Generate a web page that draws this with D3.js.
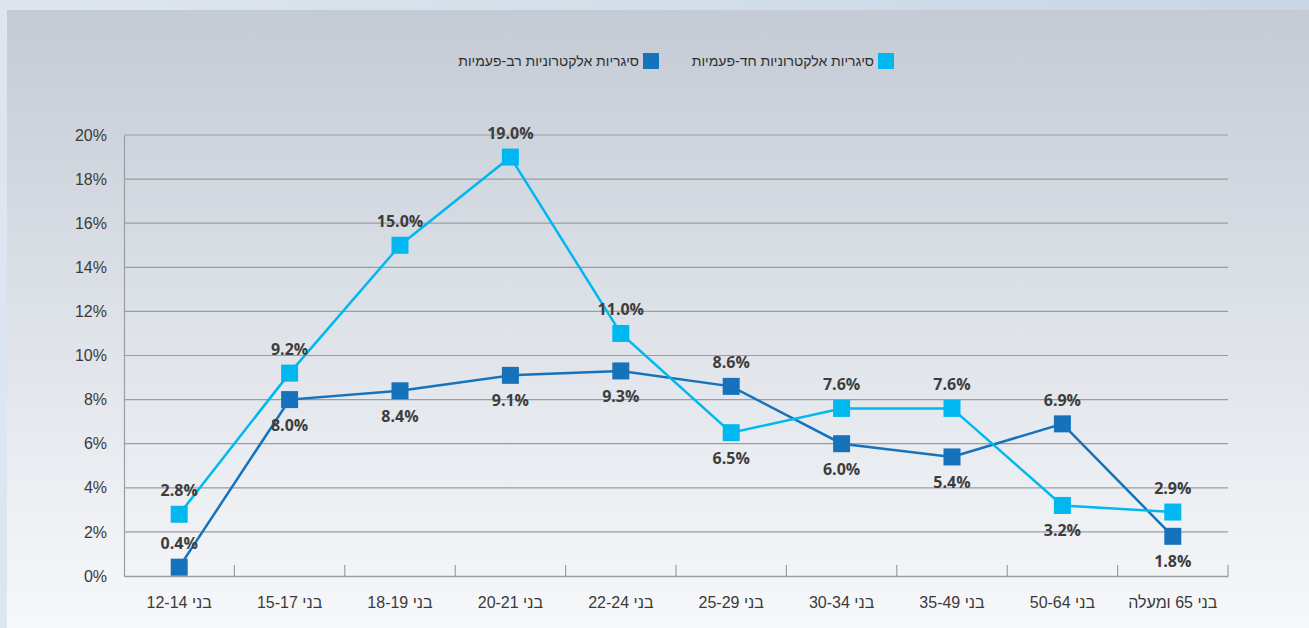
<!DOCTYPE html>
<html>
<head>
<meta charset="utf-8">
<script src="https://cdn.jsdelivr.net/npm/d3@7"></script>
<style>
  body { margin: 0; background: #e9edf2; }
  svg { display: block; font-family: "Open Sans", "Liberation Sans", sans-serif; }
</style>
</head>
<body>
<div id="chart"></div>
<script>
// age groups, in the order shown left to right
var categories = ["בני 12-14", "בני 15-17", "בני 18-19", "בני 20-21", "בני 22-24",
                  "בני 25-29", "בני 30-34", "בני 35-49", "בני 50-64", "בני 65 ומעלה"];
var disposable = [2.8, 9.2, 15.0, 19.0, 11.0, 6.5, 7.6, 7.6, 3.2, 2.9];
var reusable = [0.4, 8.0, 8.4, 9.1, 9.3, 8.6, 6.0, 5.4, 6.9, 1.8];
var seriesNames = ["סיגריות אלקטרוניות חד-פעמיות", "סיגריות אלקטרוניות רב-פעמיות"];
var yTicks = [0, 2, 4, 6, 8, 10, 12, 14, 16, 18, 20];
// label placement per point: true = above marker
var disposableAbove = [true, true, true, true, true, false, true, true, false, true];
var reusableAbove = [true, false, false, false, false, true, false, false, true, false];

function main() {
    var W = 1309, H = 628;
    var margin = { top: 135, right: 81, bottom: 52, left: 124 };
    var width = W - margin.left - margin.right;
    var height = H - margin.top - margin.bottom;

    var svg = d3.select("#chart").append("svg")
        .attr("width", W).attr("height", H);

    // sky-ish background
    var defs = svg.append("defs");
    var grad = defs.append("linearGradient").attr("id", "bg")
        .attr("x1", 0).attr("y1", 0).attr("x2", 0).attr("y2", 1);
    grad.append("stop").attr("offset", "0%").attr("stop-color", "#c4cbd5");
    grad.append("stop").attr("offset", "45%").attr("stop-color", "#dbe0e7");
    grad.append("stop").attr("offset", "100%").attr("stop-color", "#f7f8fa");
    var edge = defs.append("linearGradient").attr("id", "edge")
        .attr("x1", 0).attr("y1", 0).attr("x2", 1).attr("y2", 0);
    edge.append("stop").attr("offset", "0%").attr("stop-color", "#dde6f0");
    edge.append("stop").attr("offset", "100%").attr("stop-color", "#c9d6e4");

    svg.append("rect").attr("width", W).attr("height", H).attr("fill", "url(#edge)");
    svg.append("rect").attr("x", 7).attr("y", 10).attr("width", W - 7).attr("height", H - 10)
        .attr("fill", "url(#bg)");

    var g = svg.append("g")
        .attr("transform", "translate(" + margin.left + "," + margin.top + ")");

    var x = d3.scaleBand().domain(categories).range([0, width]);
    var y = d3.scaleLinear().domain([0, 20]).range([height, 0]);

    // gridlines
    g.selectAll(".grid").data(yTicks.slice(1)).enter().append("line")
        .attr("x1", 0).attr("x2", width)
        .attr("y1", function (d) { return y(d); })
        .attr("y2", function (d) { return y(d); })
        .attr("stroke", "#9a9ea4").attr("stroke-width", 1.2);

    // y axis
    var yAxis = g.append("g")
        .call(d3.axisLeft(y).tickValues(yTicks).tickSize(0).tickPadding(17)
            .tickFormat(function (d) { return d + "%"; }));
    yAxis.select(".domain").attr("stroke", "#9a9ea4").attr("stroke-width", 1.2);
    yAxis.selectAll("text").attr("font-size", "16px").attr("fill", "#3a3a3a");

    // x axis with inward ticks at band edges
    var xAxis = g.append("g").attr("transform", "translate(0," + height + ")")
        .call(d3.axisBottom(x).tickSize(0).tickPadding(21));
    xAxis.select(".domain").attr("stroke", "#9a9ea4").attr("stroke-width", 1.5);
    xAxis.selectAll("text").attr("font-size", "16px").attr("fill", "#3a3a3a");
    var edges = categories.slice(1).map(function (c) { return x(c); }).concat([width]);
    xAxis.selectAll(".edge").data(edges).enter().append("line")
        .attr("x1", function (d) { return d; }).attr("x2", function (d) { return d; })
        .attr("y1", -11).attr("y2", 0)
        .attr("stroke", "#9a9ea4").attr("stroke-width", 1.2);

    var cx = function (d, i) { return x(categories[i]) + x.bandwidth() / 2; };

    function drawSeries(values, color, above) {
        var line = d3.line()
            .x(function (d, i) { return cx(d, i); })
            .y(function (d) { return y(d); });
        g.append("path").datum(values)
            .attr("fill", "none").attr("stroke", color).attr("stroke-width", 2.5)
            .attr("d", line);
        g.selectAll(null).data(values).enter().append("rect")
            .attr("x", function (d, i) { return cx(d, i) - 8.5; })
            .attr("y", function (d) { return y(d) - 8.5; })
            .attr("width", 17).attr("height", 17)
            .attr("fill", color);
        g.selectAll(null).data(values).enter().append("text")
            .attr("x", function (d, i) { return cx(d, i); })
            .attr("y", function (d, i) { return above[i] ? y(d) - 18 : y(d) + 31; })
            .attr("text-anchor", "middle")
            .attr("font-size", "16px").attr("font-weight", "bold")
            .attr("fill", "#3d3d3d")
            .text(function (d) { return d.toFixed(1) + "%"; });
    }

    drawSeries(reusable, "#1672bb", reusableAbove);
    drawSeries(disposable, "#00b8ef", disposableAbove);

    // legend
    var legend = [
        { name: seriesNames[0], color: "#00b8ef", right: 894 },
        { name: seriesNames[1], color: "#1672bb", right: 659 }
    ];
    var lg = svg.selectAll(".legend").data(legend).enter().append("g");
    lg.append("rect")
        .attr("x", function (d) { return d.right - 16; }).attr("y", 53)
        .attr("width", 16).attr("height", 16)
        .attr("fill", function (d) { return d.color; });
    lg.append("text")
        .attr("x", function (d) { return d.right - 20; }).attr("y", 66)
        .attr("text-anchor", "start").attr("direction", "rtl")
        .attr("font-family", "'Liberation Sans', sans-serif")
        .attr("font-size", "14px").attr("fill", "#2f2f2f")
        .text(function (d) { return d.name; });
}
window.addEventListener('load', main);
</script>
</body>
</html>
